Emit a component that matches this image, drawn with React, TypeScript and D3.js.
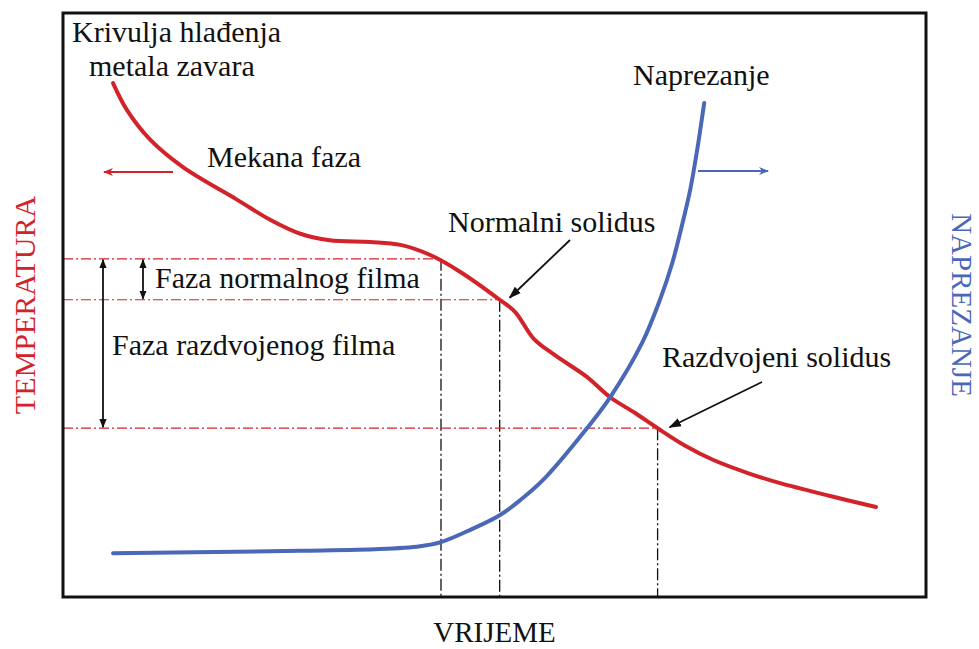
import React from "react";
import * as d3 from "d3";

// time (0-100) vs relative value (0-100)
const coolingTime = [5.8, 7.4, 10.1, 13.9, 20.2, 24.0, 27.5, 30.9, 35.6, 39.1, 42.5, 46.0, 50.6, 52.4, 54.5, 57.0, 60.7, 63.4, 66.3, 68.9, 72.1, 75.3, 79.6, 83.1, 88.9, 94.2];
const coolingTemp = [88.0, 83.4, 78.3, 73.6, 68.0, 64.6, 62.2, 61.1, 60.8, 60.3, 58.6, 55.7, 50.9, 48.8, 44.3, 41.4, 37.7, 34.2, 31.5, 28.9, 25.9, 23.5, 21.1, 19.5, 17.3, 15.4];

const stressTime = [5.8, 27.5, 36.7, 41.4, 43.8, 47.2, 50.6, 53.0, 55.6, 59.9, 63.4, 67.1, 69.2, 70.6, 71.7, 72.7, 73.5, 74.3];
const stressValue = [7.5, 7.9, 8.2, 8.7, 9.4, 11.5, 14.0, 16.6, 20.0, 27.4, 34.2, 43.5, 51.0, 57.2, 63.5, 69.9, 76.7, 84.6];

// temperature levels and the times they are reached
const levelTemps = [57.9, 50.9, 28.9];
const levelTimes = [43.8, 50.6, 68.9];

const RED = "#d2232a";
const BLUE = "#4a67b8";
const FONT = "'Liberation Serif', 'Times New Roman', serif";

export default function App() {
  const W = 979;
  const H = 649;
  const left = 63, right = 926, top = 13, bottom = 597;

  const x = d3.scaleLinear().domain([0, 100]).range([left, right]);
  const y = d3.scaleLinear().domain([0, 100]).range([bottom, top]);

  const line = d3
    .line<[number, number]>()
    .x((d) => x(d[0]))
    .y((d) => y(d[1]))
    .curve(d3.curveCatmullRom.alpha(0.5));

  const redPath = line(coolingTime.map((t, i) => [t, coolingTemp[i]]));
  const bluePath = line(stressTime.map((t, i) => [t, stressValue[i]]));

  const txt = { fontFamily: FONT };

  return (
    <svg
      width={W}
      height={H}
      style={{ position: "fixed", left: 0, top: 0, background: "#fff" }}
    >
      <defs>
        <marker id="blk" viewBox="0 0 10 10" refX="9" refY="5" markerWidth="5" markerHeight="5" orient="auto-start-reverse" markerUnits="strokeWidth">
          <path d="M0,1 L10,5 L0,9 z" fill="#111" />
        </marker>
        <marker id="blk2" viewBox="0 0 10 10" refX="9" refY="5" markerWidth="7" markerHeight="7" orient="auto-start-reverse" markerUnits="strokeWidth">
          <path d="M0,1.5 L10,5 L0,8.5 z" fill="#111" />
        </marker>
        <marker id="red" viewBox="0 0 10 10" refX="9" refY="5" markerWidth="5" markerHeight="5" orient="auto" markerUnits="strokeWidth">
          <path d="M0,1 L10,5 L0,9 L3,5 z" fill={RED} />
        </marker>
        <marker id="blue" viewBox="0 0 10 10" refX="9" refY="5" markerWidth="5" markerHeight="5" orient="auto" markerUnits="strokeWidth">
          <path d="M0,1 L10,5 L0,9 L3,5 z" fill={BLUE} />
        </marker>
      </defs>

      {/* level lines */}
      {levelTemps.map((t, i) => (
        <g key={i}>
          <line x1={left} x2={x(levelTimes[i])} y1={y(t)} y2={y(t)} stroke={RED} strokeWidth={1.2} strokeDasharray="10,3,2,3" />
          <line x1={x(levelTimes[i])} x2={x(levelTimes[i])} y1={y(t)} y2={bottom} stroke="#111" strokeWidth={1.3} strokeDasharray="12,3,2,3" />
        </g>
      ))}

      {/* curves */}
      <path d={redPath || ""} fill="none" stroke={RED} strokeWidth={4} strokeLinecap="round" />
      <path d={bluePath || ""} fill="none" stroke={BLUE} strokeWidth={4} strokeLinecap="round" />

      {/* frame */}
      <rect x={left} y={top} width={right - left} height={bottom - top} fill="none" stroke="#111" strokeWidth={3} />

      {/* phase arrows */}
      <line x1={103} x2={103} y1={y(levelTemps[0]) + 1} y2={y(levelTemps[2]) - 1} stroke="#111" strokeWidth={1.8} markerStart="url(#blk)" markerEnd="url(#blk)" />
      <line x1={143} x2={143} y1={y(levelTemps[0]) + 1} y2={y(levelTemps[1]) - 1} stroke="#111" strokeWidth={1.8} markerStart="url(#blk)" markerEnd="url(#blk)" />

      {/* direction arrows */}
      <line x1={173} x2={104} y1={172} y2={172} stroke={RED} strokeWidth={2} markerEnd="url(#red)" />
      <line x1={698} x2={768} y1={171} y2={171} stroke={BLUE} strokeWidth={2} markerEnd="url(#blue)" />

      {/* pointer arrows */}
      <line x1={570} y1={240} x2={x(levelTimes[1]) + 10} y2={y(levelTemps[1]) - 2} stroke="#111" strokeWidth={1.8} markerEnd="url(#blk2)" />
      <line x1={762} y1={382} x2={x(levelTimes[2]) + 12} y2={y(levelTemps[2]) - 1} stroke="#111" strokeWidth={1.8} markerEnd="url(#blk2)" />

      {/* texts */}
      <g fontSize={30} fill="#111" style={txt}>
        <text style={txt} x={72} y={42}>Krivulja hlađenja</text>
        <text style={txt} x={89} y={76}>metala zavara</text>
        <text style={txt} x={207} y={167}>Mekana faza</text>
        <text style={txt} x={633} y={85}>Naprezanje</text>
        <text style={txt} x={448} y={232}>Normalni solidus</text>
        <text style={txt} x={155} y={288}>Faza normalnog filma</text>
        <text style={txt} x={112} y={355}>Faza razdvojenog filma</text>
        <text style={txt} x={662} y={367}>Razdvojeni solidus</text>
        <text style={txt} x={(left + right) / 2} y={642} textAnchor="middle" fontSize={29}>VRIJEME</text>
      </g>
      <text style={txt} transform={`translate(35, ${(top + bottom) / 2}) rotate(-90)`} textAnchor="middle" fontSize={30} fill={RED}>TEMPERATURA</text>
      <text style={txt} transform={`translate(952, ${(top + bottom) / 2}) rotate(90)`} textAnchor="middle" fontSize={29} fill={BLUE}>NAPREZANJE</text>
    </svg>
  );
}
